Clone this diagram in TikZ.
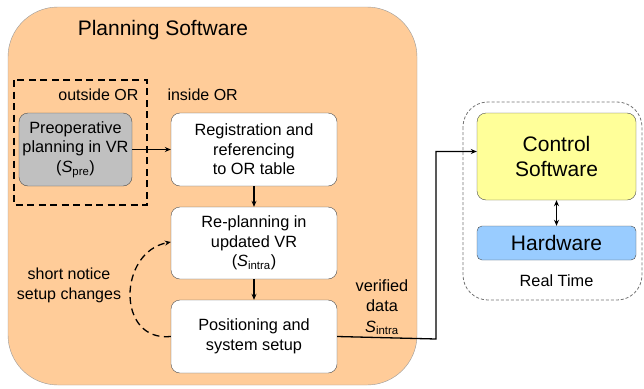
\documentclass[tikz,border=0pt]{standalone}
\usepackage{fontspec}
\setmainfont{Liberation Sans}
\definecolor{psOrange}{HTML}{FFCC99}
\definecolor{psGray}{HTML}{C0C0C0}
\definecolor{psYellow}{HTML}{FFFF99}
\definecolor{psBlue}{HTML}{99CCFF}
\definecolor{psEdge}{HTML}{4D4D4D}
\usetikzlibrary{calc,positioning,arrows.meta}

\tikzset{
  stepbox/.style={draw=psEdge, fill=white, rounded corners=9pt, align=center,
    minimum width=166pt, minimum height=73pt, inner sep=2pt,
    font=\fontsize{16.3}{19.5}\selectfont},
  flow/.style={line width=1.3pt, -{Stealth[length=6pt,width=5pt]}},
}

\begin{document}
\begin{tikzpicture}[x=1pt, y=-1pt]
  \useasboundingbox (0,0) rectangle (644,388);

  % Planning software frame
  \draw[psGray!80!black, fill=psOrange, rounded corners=50pt] (8,7) rectangle (417,385);
  \node[font=\fontsize{21}{24}\selectfont] (title) at (163,30) {Planning Software};

  % Outside OR region
  \draw[line width=1.5pt, dash pattern=on 7pt off 4.5pt] (14,80) rectangle (147,205);
  \node[font=\fontsize{16}{19}\selectfont, anchor=east] (outside) at (142,95) {outside OR};
  \node[font=\fontsize{16}{19}\selectfont, anchor=west] (inside) at (164,95) {inside OR};

  % Steps
  \node[stepbox, fill=psGray, minimum width=113pt] (preop) at (75.5,149.5)
    {Preoperative\\planning in VR\\(\textit{S}\textsubscript{pre})};
  \node[stepbox] (regist) at (254,149.5) {Registration and\\referencing\\to OR table};
  \node[stepbox, minimum height=72pt] (replan) at (254,243)
    {Re-planning in\\updated VR\\(\textit{S}\textsubscript{intra})};
  \node[stepbox] (posit) at (254,336.5) {Positioning and\\system setup};

  \draw[flow] (preop) -- (regist);
  \draw[flow] (regist) -- (replan);
  \draw[flow] (replan) -- (posit);

  % Feedback loop
  \draw[line width=1.3pt, dash pattern=on 7pt off 4.5pt, -{Stealth[length=6pt,width=5pt]}]
    (posit.west) .. controls (116,342) and (118,252) .. ([yshift=1pt]replan.west);
  \node[font=\fontsize{16}{20}\selectfont, align=center] (notice) at (69,285)
    {short notice\\setup changes};

  % Real time part
  \draw[gray!90!black, line width=0.8pt, dash pattern=on 3pt off 2pt, rounded corners=25pt]
    (463,102) rectangle (642,300);
  \node[draw=psEdge, fill=psYellow, rounded corners=9pt, minimum width=159pt,
    minimum height=87pt, align=center, font=\fontsize{21}{25}\selectfont] (ctrl) at (556.5,156.5)
    {Control\\Software};
  \node[draw=psEdge, fill=psBlue, rounded corners=5pt, minimum width=159pt,
    minimum height=34pt, font=\fontsize{21}{24}\selectfont] (hw) at (556.5,243) {Hardware};
  \node[font=\fontsize{16.3}{19}\selectfont] (rt) at (556.5,281) {Real Time};
  \draw[line width=1.3pt, {Stealth[length=6pt,width=5pt]}-{Stealth[length=6pt,width=5pt]}] (ctrl) -- (hw);

  % Verified data to control software
  \coordinate (bend) at (436,339);
  \draw[flow] (posit.east) -- (bend) |- ([yshift=5pt]ctrl.west);
  \node[font=\fontsize{16.3}{20.5}\selectfont, align=center] (verified) at (382,307)
    {verified\\data\\\textit{S}\textsubscript{intra}};

\end{tikzpicture}
\end{document}
